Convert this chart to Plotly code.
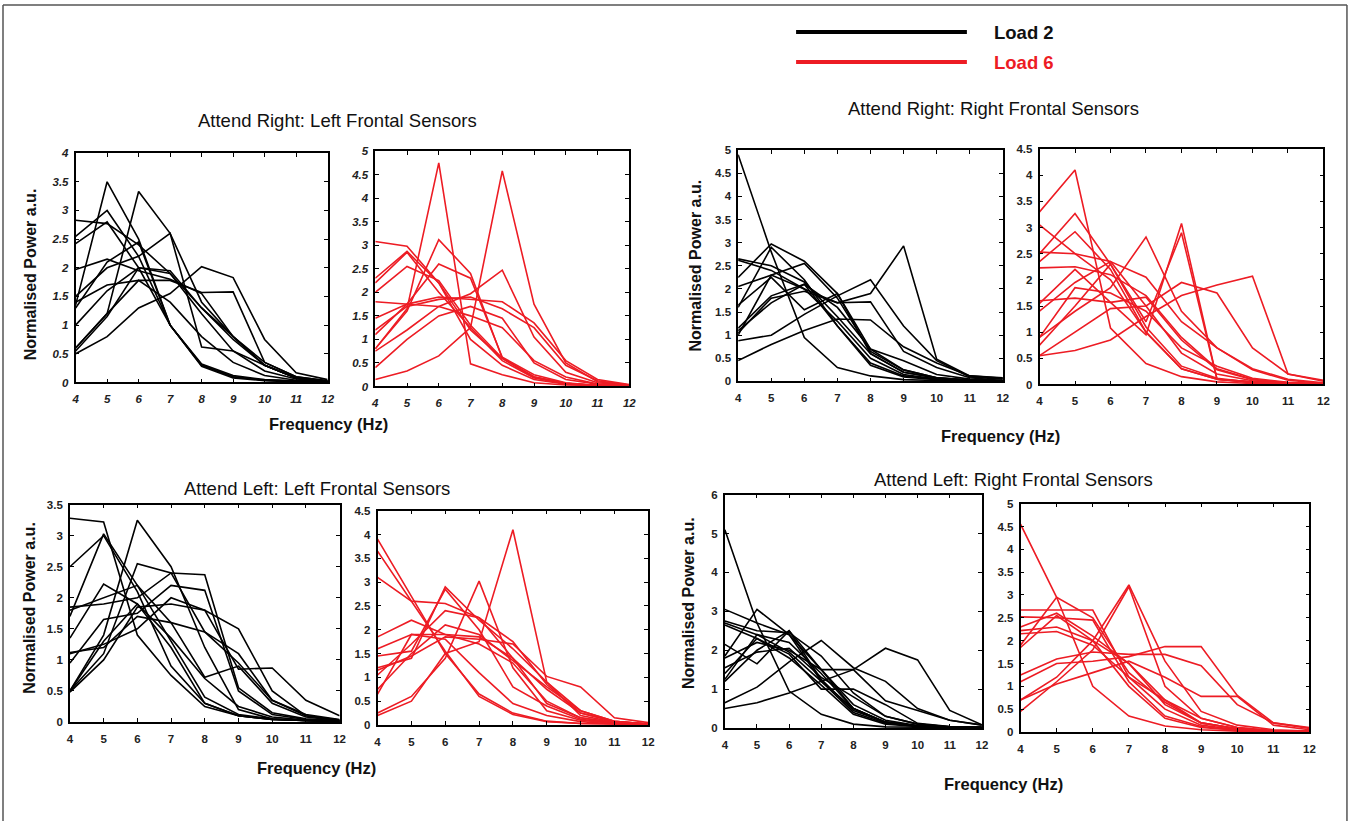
import plotly.graph_objects as go

freqs = [4, 5, 6, 7, 8, 9, 10, 11, 12]

# Attend Right: Left Frontal Sensors - Load 2
ar_lf_load2 = [
    [1.35, 3.50, 2.50, 1.00, 0.30, 0.10, 0.04, 0.02, 0.01],
    [0.60, 1.20, 3.33, 2.60, 1.40, 0.80, 0.35, 0.10, 0.03],
    [2.83, 2.77, 2.40, 1.90, 1.30, 0.75, 0.30, 0.08, 0.02],
    [2.55, 3.00, 2.20, 1.00, 0.30, 0.10, 0.04, 0.02, 0.01],
    [2.42, 2.80, 2.00, 1.00, 0.28, 0.08, 0.03, 0.01, 0.01],
    [1.97, 2.15, 1.95, 1.80, 1.55, 0.80, 0.30, 0.08, 0.02],
    [1.50, 2.00, 2.20, 2.60, 0.62, 0.55, 0.30, 0.08, 0.02],
    [0.50, 0.80, 1.30, 1.55, 2.02, 1.83, 0.75, 0.17, 0.05],
    [1.40, 1.70, 1.78, 1.78, 1.57, 1.58, 0.35, 0.10, 0.03],
    [0.55, 1.15, 2.00, 1.95, 1.30, 0.80, 0.30, 0.08, 0.02],
    [1.00, 1.60, 2.00, 1.90, 1.20, 0.55, 0.20, 0.06, 0.02],
    [0.60, 1.20, 1.78, 1.40, 0.80, 0.35, 0.12, 0.04, 0.01],
    [1.30, 2.10, 2.45, 1.00, 0.32, 0.12, 0.05, 0.02, 0.01],
]
# Attend Right: Left Frontal Sensors - Load 6
ar_lf_load6 = [
    [0.80, 1.65, 4.75, 0.48, 0.25, 0.08, 0.03, 0.02, 0.01],
    [0.15, 0.33, 0.65, 1.25, 4.58, 1.75, 0.50, 0.10, 0.03],
    [3.08, 2.98, 2.20, 1.20, 0.60, 0.20, 0.06, 0.02, 0.01],
    [2.30, 2.87, 2.20, 1.00, 0.45, 0.15, 0.05, 0.02, 0.01],
    [2.20, 2.85, 2.00, 1.25, 0.55, 0.18, 0.06, 0.02, 0.01],
    [2.00, 2.55, 2.25, 1.30, 0.60, 0.20, 0.07, 0.02, 0.01],
    [0.80, 1.60, 3.12, 2.40, 0.60, 0.20, 0.07, 0.02, 0.01],
    [1.10, 1.75, 2.60, 2.30, 0.62, 0.25, 0.08, 0.02, 0.01],
    [1.80, 1.75, 1.70, 1.50, 1.25, 0.55, 0.20, 0.05, 0.02],
    [0.75, 1.20, 1.70, 1.97, 2.47, 1.05, 0.30, 0.08, 0.02],
    [1.45, 1.75, 1.90, 1.85, 1.80, 1.35, 0.55, 0.15, 0.04],
    [1.20, 1.70, 1.85, 1.90, 1.65, 1.25, 0.45, 0.12, 0.03],
    [0.40, 1.00, 1.50, 1.70, 1.45, 0.50, 0.15, 0.05, 0.02],
]
# Attend Right: Right Frontal Sensors - Load 2
ar_rf_load2 = [
    [4.90, 2.80, 0.95, 0.30, 0.12, 0.04, 0.02, 0.01, 0.01],
    [0.45, 0.80, 1.10, 1.35, 1.33, 0.75, 0.40, 0.12, 0.07],
    [0.88, 1.00, 1.45, 1.85, 2.20, 1.20, 0.45, 0.10, 0.05],
    [1.05, 1.80, 1.95, 1.70, 1.90, 2.93, 0.48, 0.12, 0.08],
    [2.65, 2.50, 2.15, 1.40, 0.60, 0.20, 0.08, 0.03, 0.01],
    [2.62, 2.40, 2.00, 1.30, 0.50, 0.15, 0.05, 0.02, 0.01],
    [2.25, 2.97, 2.60, 1.90, 0.70, 0.45, 0.15, 0.05, 0.02],
    [2.05, 2.30, 2.55, 1.80, 0.65, 0.25, 0.08, 0.03, 0.01],
    [1.60, 2.90, 2.20, 1.20, 0.40, 0.12, 0.05, 0.02, 0.01],
    [1.65, 2.25, 1.55, 1.90, 0.60, 0.20, 0.07, 0.02, 0.01],
    [1.10, 1.70, 2.10, 1.60, 0.70, 0.25, 0.08, 0.03, 0.01],
    [1.00, 2.30, 2.00, 1.70, 1.72, 0.65, 0.30, 0.08, 0.02],
    [1.15, 1.85, 2.10, 1.20, 0.35, 0.10, 0.04, 0.02, 0.01],
]
# Attend Right: Right Frontal Sensors - Load 6
ar_rf_load6 = [
    [3.30, 4.10, 1.08, 0.40, 0.15, 0.05, 0.02, 0.01, 0.01],
    [2.50, 3.27, 2.30, 1.10, 0.35, 0.12, 0.04, 0.02, 0.01],
    [2.35, 2.92, 2.20, 1.00, 0.30, 0.10, 0.04, 0.02, 0.01],
    [3.05, 2.50, 2.00, 1.00, 0.30, 0.10, 0.04, 0.02, 0.01],
    [2.53, 2.50, 2.35, 1.50, 0.60, 0.20, 0.07, 0.02, 0.01],
    [2.23, 2.25, 2.10, 1.70, 0.90, 0.30, 0.10, 0.03, 0.01],
    [1.60, 1.65, 1.57, 1.67, 0.85, 0.28, 0.09, 0.03, 0.01],
    [0.90, 1.40, 1.85, 2.82, 1.40, 0.70, 0.28, 0.08, 0.02],
    [1.55, 2.20, 1.57, 0.95, 3.08, 0.10, 0.05, 0.02, 0.01],
    [0.75, 1.50, 2.30, 1.20, 2.90, 0.10, 0.05, 0.02, 0.01],
    [0.55, 0.65, 0.85, 1.30, 1.70, 1.90, 2.07, 0.20, 0.08],
    [0.55, 1.00, 1.45, 1.50, 1.95, 1.75, 0.70, 0.20, 0.06],
    [0.90, 1.85, 1.75, 1.40, 0.70, 0.35, 0.12, 0.04, 0.01],
    [1.40, 1.95, 2.35, 2.05, 1.20, 0.70, 0.30, 0.10, 0.03],
]
# Attend Left: Left Frontal Sensors - Load 2
al_lf_load2 = [
    [3.28, 3.22, 1.40, 0.75, 0.25, 0.10, 0.04, 0.02, 0.01],
    [2.50, 3.00, 2.10, 0.90, 0.30, 0.10, 0.04, 0.02, 0.01],
    [1.70, 3.03, 2.20, 1.30, 0.40, 0.12, 0.05, 0.02, 0.01],
    [0.50, 1.40, 3.25, 2.50, 1.20, 0.20, 0.05, 0.02, 0.01],
    [1.85, 1.90, 2.00, 2.40, 2.37, 0.55, 0.15, 0.05, 0.02],
    [1.35, 2.22, 1.90, 1.35, 0.70, 0.25, 0.08, 0.03, 0.01],
    [0.95, 1.65, 1.75, 2.20, 2.12, 0.50, 0.12, 0.04, 0.01],
    [0.50, 1.10, 2.55, 2.40, 1.45, 0.95, 0.35, 0.10, 0.03],
    [1.10, 1.25, 1.50, 2.00, 1.80, 1.50, 0.50, 0.10, 0.03],
    [1.12, 1.20, 1.70, 1.60, 1.45, 1.10, 0.35, 0.12, 0.04],
    [0.48, 1.00, 1.85, 1.90, 1.80, 0.85, 0.87, 0.35, 0.10],
    [1.80, 2.00, 2.20, 1.60, 0.72, 0.90, 0.30, 0.08, 0.02],
    [0.50, 1.30, 1.90, 1.20, 0.30, 0.10, 0.04, 0.02, 0.01],
]
# Attend Left: Left Frontal Sensors - Load 6
al_lf_load6 = [
    [3.90, 2.70, 1.50, 0.65, 0.25, 0.08, 0.03, 0.02, 0.01],
    [3.65, 2.60, 1.55, 0.60, 0.22, 0.07, 0.03, 0.02, 0.01],
    [3.10, 2.60, 2.55, 2.25, 1.75, 0.85, 0.25, 0.08, 0.02],
    [1.85, 2.20, 1.90, 1.70, 1.30, 0.50, 0.15, 0.05, 0.02],
    [1.60, 1.90, 1.90, 1.85, 1.40, 0.75, 0.25, 0.07, 0.02],
    [1.45, 1.55, 2.85, 2.00, 0.80, 0.40, 0.12, 0.04, 0.01],
    [1.20, 1.40, 2.90, 2.20, 1.60, 0.90, 0.30, 0.08, 0.02],
    [1.05, 1.70, 2.40, 2.25, 1.40, 0.45, 0.15, 0.05, 0.02],
    [0.75, 1.50, 2.10, 1.90, 1.35, 0.80, 0.30, 0.08, 0.02],
    [0.65, 1.90, 1.80, 1.10, 0.45, 0.20, 0.07, 0.02, 0.01],
    [0.25, 0.60, 1.40, 3.02, 1.20, 0.30, 0.10, 0.03, 0.01],
    [0.20, 0.50, 1.50, 1.75, 4.10, 0.90, 0.20, 0.06, 0.02],
    [1.15, 1.45, 1.85, 1.80, 1.70, 1.02, 0.80, 0.15, 0.05],
]
# Attend Left: Right Frontal Sensors - Load 2
al_rf_load2 = [
    [5.10, 2.70, 0.95, 0.35, 0.10, 0.03, 0.02, 0.01, 0.01],
    [3.05, 2.70, 2.40, 1.50, 0.50, 0.15, 0.05, 0.02, 0.01],
    [2.75, 2.50, 2.45, 1.85, 0.90, 0.30, 0.10, 0.03, 0.01],
    [2.70, 2.40, 2.20, 1.40, 0.50, 0.15, 0.05, 0.02, 0.01],
    [2.65, 2.30, 1.80, 1.10, 0.35, 0.10, 0.04, 0.02, 0.01],
    [2.15, 1.65, 2.50, 1.50, 0.60, 0.20, 0.06, 0.02, 0.01],
    [1.85, 3.05, 2.40, 1.20, 0.40, 0.12, 0.04, 0.02, 0.01],
    [1.80, 2.20, 2.00, 1.50, 1.50, 0.70, 0.45, 0.20, 0.08],
    [1.55, 1.95, 2.05, 1.30, 0.80, 0.30, 0.10, 0.03, 0.01],
    [1.25, 2.40, 1.95, 1.20, 0.50, 0.15, 0.05, 0.02, 0.01],
    [1.20, 2.00, 2.50, 1.25, 0.45, 0.15, 0.05, 0.02, 0.01],
    [0.65, 1.05, 1.70, 2.25, 1.55, 1.20, 0.50, 0.20, 0.07],
    [0.50, 0.65, 0.90, 1.20, 1.50, 2.05, 1.75, 0.45, 0.08],
    [1.40, 2.30, 1.90, 1.00, 1.00, 0.60, 0.12, 0.04, 0.01],
]
# Attend Left: Right Frontal Sensors - Load 6
al_rf_load6 = [
    [4.55, 2.95, 1.00, 0.35, 0.13, 0.05, 0.02, 0.01, 0.01],
    [2.67, 2.67, 2.67, 1.20, 0.50, 0.15, 0.05, 0.02, 0.01],
    [2.52, 2.50, 2.45, 1.10, 0.35, 0.12, 0.04, 0.02, 0.01],
    [2.30, 2.60, 2.10, 1.50, 0.60, 0.20, 0.07, 0.02, 0.01],
    [2.22, 2.30, 2.00, 1.00, 0.30, 0.10, 0.04, 0.02, 0.01],
    [2.15, 2.20, 1.90, 1.20, 0.70, 0.30, 0.10, 0.03, 0.01],
    [1.90, 2.95, 2.50, 1.30, 0.65, 0.20, 0.07, 0.02, 0.01],
    [1.85, 2.55, 2.00, 1.50, 0.70, 0.20, 0.07, 0.02, 0.01],
    [0.70, 1.20, 2.00, 3.22, 1.55, 0.45, 0.15, 0.05, 0.02],
    [0.45, 1.10, 1.80, 3.18, 1.00, 0.30, 0.10, 0.03, 0.01],
    [1.25, 1.60, 1.75, 1.70, 1.70, 1.45, 0.60, 0.20, 0.08],
    [1.10, 1.50, 1.55, 1.65, 1.87, 1.87, 0.80, 0.20, 0.10],
    [0.70, 1.05, 1.30, 1.55, 1.20, 0.78, 0.78, 0.15, 0.05],
]

panel_titles = [
    "Attend Right: Left Frontal Sensors",
    "Attend Right: Right Frontal Sensors",
    "Attend Left: Left Frontal Sensors",
    "Attend Left: Right Frontal Sensors",
]
x_title = "Frequency (Hz)"
y_title = "Normalised Power a.u."
legend_labels = ["Load 2", "Load 6"]

W, H = 1351, 827
BLACK = "#000000"
RED = "#ED1C24"

# compensation for the observed placement of the rendered page in the photo
AX, BX = 4.0, 0.993
AY, BY = 6.1, 0.984

def fx(px):
    return ((px - AX) / BX) / W

def fy(py):
    return 1 - ((py - AY) / BY) / H

# panel boxes in pixels: (x0, x1, ytop, ybottom), data, color, ymax, italic
panels = [
    ((75.7, 328, 153, 382), ar_lf_load2, BLACK, 4.0, True),
    ((375.7, 630, 151, 386), ar_lf_load6, RED, 5.0, True),
    ((739, 1004, 150, 381), ar_rf_load2, BLACK, 5.0, False),
    ((1040.7, 1325, 149, 384), ar_rf_load6, RED, 4.5, False),
    ((70, 340, 504, 721), al_lf_load2, BLACK, 3.5, False),
    ((378, 649, 510, 724), al_lf_load6, RED, 4.5, False),
    ((725.7, 983, 494, 727), al_rf_load2, BLACK, 6.0, False),
    ((1021.7, 1311, 503, 731), al_rf_load6, RED, 5.0, False),
]

fig = go.Figure()
layout = {}
FONT = "Liberation Sans, Arial, sans-serif"

for i, (box, data, color, ymax, italic) in enumerate(panels):
    n = i + 1
    xa = "x" if n == 1 else f"x{n}"
    ya = "y" if n == 1 else f"y{n}"
    for series in data:
        fig.add_trace(go.Scatter(x=freqs, y=series, mode="lines",
                                 line=dict(color=color, width=1.6),
                                 xaxis=xa, yaxis=ya, showlegend=False,
                                 hoverinfo="skip"))
    x0, x1, yt, yb = box
    tickfont = dict(family=FONT, size=11.5, color="#222222", weight="bold",
                    style="italic" if italic else "normal")
    dtick = 1 if ymax == 6.0 else 0.5
    common = dict(showline=True, linecolor="black", linewidth=1.6, mirror="ticks",
                  ticks="inside", ticklen=4, tickwidth=1, tickcolor="black",
                  showgrid=False, zeroline=False, tickfont=tickfont)
    layout["xaxis" if n == 1 else f"xaxis{n}"] = dict(
        domain=[fx(x0), fx(x1)], range=[4, 12], tickmode="linear", tick0=4, dtick=1,
        anchor=ya, ticklabelstandoff=5, **common)
    layout["yaxis" if n == 1 else f"yaxis{n}"] = dict(
        domain=[fy(yb), fy(yt)], range=[0, ymax], tickmode="linear", tick0=0, dtick=dtick,
        anchor=xa, ticklabelstandoff=3, **common)

fig.update_layout(**layout)

annotations = []
title_pos = [(338, 120), (995, 108), (317, 488), (1015, 479)]
for t, (px, py) in zip(panel_titles, title_pos):
    annotations.append(dict(text=t, x=fx(px), y=fy(py), xref="paper", yref="paper",
                            showarrow=False, xanchor="center", yanchor="middle",
                            font=dict(family=FONT, size=18.5, color="#111111")))
xt_pos = [(329, 423), (1002, 435), (317, 767), (1005, 783)]
for px, py in xt_pos:
    annotations.append(dict(text=x_title, x=fx(px), y=fy(py), xref="paper", yref="paper",
                            showarrow=False, xanchor="center", yanchor="middle",
                            font=dict(family=FONT, size=16.5, color="#111111", weight="bold")))
yt_pos = [(30, 274), (696, 265), (30, 607), (690, 602)]
for px, py in yt_pos:
    annotations.append(dict(text=y_title, x=fx(px), y=fy(py), xref="paper", yref="paper",
                            showarrow=False, xanchor="center", yanchor="middle", textangle=-90,
                            font=dict(family=FONT, size=16, color="#111111", weight="bold")))
# legend
leg = [(legend_labels[0], BLACK, 32), (legend_labels[1], RED, 62)]
shapes = []
for lab, col, py in leg:
    shapes.append(dict(type="line", xref="paper", yref="paper", x0=fx(797), x1=fx(968),
                       y0=fy(py), y1=fy(py), line=dict(color=col, width=4)))
    annotations.append(dict(text=lab, x=fx(993), y=fy(py + 1), xref="paper", yref="paper",
                            showarrow=False, xanchor="left", yanchor="middle",
                            font=dict(family=FONT, size=18.5, color=col if col == RED else "#111111",
                                      weight="bold")))
# outer frame (left, top, right edges)
frame = dict(color="#555555", width=1.5)
shapes.append(dict(type="line", xref="paper", yref="paper", x0=fx(3), x1=fx(3),
                   y0=0, y1=fy(5), line=frame))
shapes.append(dict(type="line", xref="paper", yref="paper", x0=fx(3), x1=fx(1348.5),
                   y0=fy(5), y1=fy(5), line=frame))
shapes.append(dict(type="line", xref="paper", yref="paper", x0=fx(1348.5), x1=fx(1348.5),
                   y0=0, y1=fy(5), line=frame))

fig.update_layout(autosize=True, margin=dict(l=0, r=0, t=0, b=0),
                  paper_bgcolor="white", plot_bgcolor="white",
                  annotations=annotations, shapes=shapes)

post = ("document.documentElement.style.margin='0';document.body.style.margin='0';"
        "document.body.style.overflow='hidden';"
        "var gd=document.getElementById('{plot_id}');"
        "gd.style.width='100vw';gd.style.height='100vh';"
        "if(gd.parentElement){gd.parentElement.style.margin='0';}"
        "Plotly.Plots.resize(gd);")
fig.write_html("out.html", config={"displayModeBar": False, "responsive": True},
               default_width="100vw", default_height="100vh", post_script=post)
